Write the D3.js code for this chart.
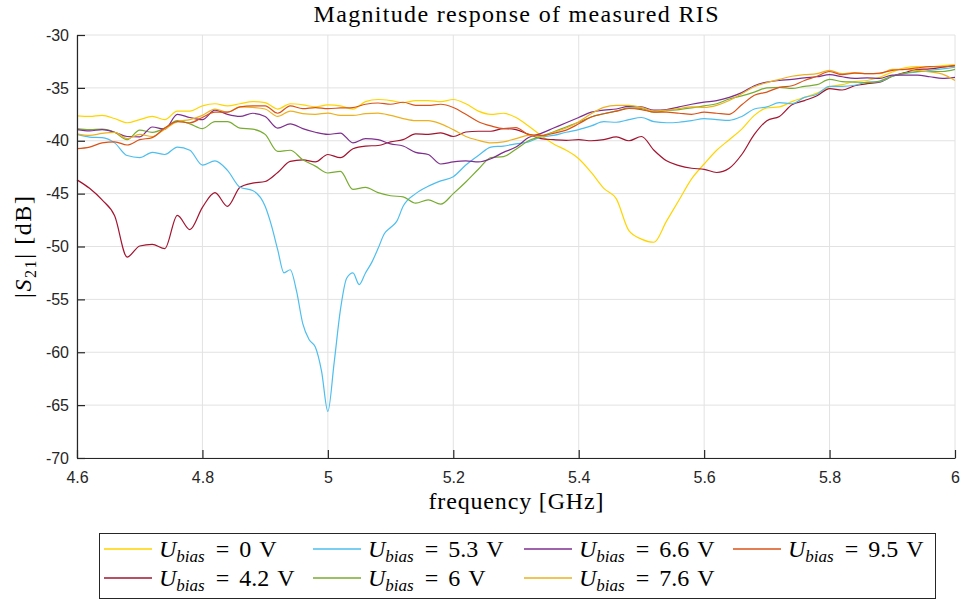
<!DOCTYPE html>
<html lang="en">
<head>
<meta charset="UTF-8">
<title>Magnitude response of measured RIS</title>
<script src="https://d3js.org/d3.v7.min.js"></script>
<style>
  body { margin: 0; background: #fff; }
  svg { display: block; }
  .tick text { font-family: "Liberation Sans", Arial, sans-serif; font-size: 16px; fill: #262626; }
  .serif { font-family: "Liberation Serif", "Times New Roman", serif; fill: #000; }
</style>
</head>
<body>
<svg id="chart" width="960" height="601"></svg>
<script>
// frequency grid [GHz] shared by most traces
const freqs = [4.60,4.62,4.64,4.66,4.68,4.70,4.72,4.74,4.76,4.78,
               4.80,4.82,4.84,4.86,4.88,4.90,4.92,4.94,4.96,4.98,
               5.00,5.02,5.04,5.06,5.08,5.10,5.12,5.14,5.16,5.18,
               5.20,5.22,5.24,5.26,5.28,5.30,5.32,5.34,5.36,5.38,
               5.40,5.42,5.44,5.46,5.48,5.50,5.52,5.54,5.56,5.58,
               5.60,5.62,5.64,5.66,5.68,5.70,5.72,5.74,5.76,5.78,
               5.80,5.82,5.84,5.86,5.88,5.90,5.92,5.94,5.96,5.98,
               6.00];

// |S21| [dB] per bias voltage
const bias0 = [-37.65,-37.7,-37.6,-37.9,-38.3,-38.0,-37.7,-38.0,-37.2,-37.2,
               -36.7,-36.5,-36.7,-36.5,-36.3,-36.4,-37.0,-36.5,-36.6,-36.8,
               -36.6,-36.7,-37.0,-36.3,-36.1,-36.2,-36.4,-36.2,-36.2,-36.3,
               -36.1,-36.5,-37.2,-37.5,-37.4,-37.8,-38.6,-39.5,-40.3,-40.9,
               -41.7,-43.0,-44.5,-45.5,-48.5,-49.3,-49.6,-47.6,-45.6,-43.6,
               -42.2,-40.9,-39.9,-38.9,-37.6,-36.9,-36.8,-36.3,-35.9,-35.5,
               -34.9,-34.7,-34.4,-34.3,-34.0,-33.5,-33.1,-33.0,-33.0,-32.9,
               -32.8];
const bias42 = [-43.7,-44.5,-45.6,-47.1,-51.0,-49.95,-49.8,-50.2,-47.05,-48.4,
                -46.3,-44.9,-46.2,-44.4,-44.0,-43.85,-43.0,-41.95,-41.8,-42.0,
                -41.3,-41.6,-40.75,-40.5,-40.45,-40.1,-39.9,-39.35,-39.4,-39.25,
                -39.6,-39.17,-39.1,-39.1,-38.85,-38.95,-39.4,-39.8,-39.9,-39.96,
                -39.9,-40.0,-39.9,-39.64,-40.0,-39.6,-40.9,-41.9,-42.35,-42.6,
                -42.7,-43.0,-42.6,-41.3,-39.4,-38.1,-37.7,-36.6,-36.2,-35.75,
                -35.07,-35.2,-34.8,-34.6,-34.45,-33.9,-33.55,-33.25,-33.2,-33.05,
                -32.9];
const bias6 = [-38.85,-38.95,-38.9,-39.2,-39.9,-39.0,-39.2,-38.8,-38.1,-38.4,
               -38.85,-38.2,-38.2,-38.8,-38.9,-39.4,-41.0,-40.9,-41.8,-42.4,
               -43.05,-42.9,-44.6,-44.4,-44.9,-45.2,-45.3,-45.9,-45.6,-46.0,
               -45.0,-43.9,-42.7,-41.6,-41.5,-40.8,-40.0,-39.6,-39.15,-38.7,
               -38.25,-37.75,-37.45,-37.2,-36.9,-36.95,-37.3,-37.15,-37.05,-36.9,
               -36.7,-36.5,-36.05,-35.75,-35.4,-35.0,-34.95,-35.05,-34.85,-34.7,
               -34.2,-34.4,-34.45,-34.5,-34.35,-33.9,-33.6,-33.45,-33.45,-33.45,
               -33.25];
const bias66 = [-38.95,-39.07,-38.95,-39.2,-39.6,-39.64,-38.7,-38.9,-37.5,-37.8,
                -38.0,-37.1,-37.5,-37.7,-37.4,-37.7,-38.8,-38.4,-38.85,-39.2,
                -39.4,-39.27,-40.2,-39.8,-39.9,-40.3,-40.5,-41.1,-41.3,-42.2,
                -42.0,-41.9,-42.0,-41.7,-41.1,-40.6,-39.7,-39.3,-38.8,-38.3,
                -37.8,-37.3,-37.1,-37.0,-36.75,-36.8,-37.1,-37.05,-36.8,-36.55,
                -36.35,-36.2,-35.9,-35.45,-34.8,-34.45,-34.3,-34.2,-34.05,-33.95,
                -33.75,-33.95,-34.1,-34.05,-34.1,-33.8,-33.8,-33.8,-33.95,-34.1,
                -34.0];
const bias76 = [-39.35,-39.5,-39.3,-39.2,-39.8,-39.4,-39.6,-38.9,-38.2,-38.0,
                -37.6,-37.0,-37.3,-36.8,-36.85,-37.0,-37.7,-37.2,-37.44,-37.5,
                -37.38,-37.6,-37.6,-37.44,-37.38,-37.6,-37.9,-38.1,-38.1,-38.4,
                -38.95,-39.6,-39.96,-40.2,-40.1,-39.8,-39.5,-39.6,-39.2,-38.8,
                -38.2,-37.45,-36.85,-36.65,-36.65,-36.85,-37.2,-37.1,-36.95,-36.8,
                -36.85,-36.65,-36.2,-35.55,-34.9,-34.5,-34.2,-33.9,-33.75,-33.65,
                -33.35,-33.65,-33.55,-33.65,-33.65,-33.25,-33.25,-33.35,-33.5,-33.7,
                -34.3];
const bias95 = [-40.75,-40.6,-40.2,-40.1,-40.4,-39.9,-39.7,-38.8,-38.2,-38.3,
                -37.8,-37.3,-37.3,-36.8,-36.7,-36.7,-37.4,-36.7,-36.96,-36.86,
                -36.96,-36.9,-36.86,-36.55,-36.43,-36.55,-36.36,-36.65,-36.65,-36.55,
                -36.86,-37.5,-38.2,-38.6,-38.85,-38.76,-39.4,-39.5,-39.3,-39.0,
                -38.4,-37.75,-37.45,-37.2,-36.95,-37.05,-37.3,-37.3,-37.4,-37.5,
                -37.3,-37.4,-37.5,-36.6,-35.7,-35.4,-34.95,-34.8,-34.3,-33.9,
                -33.45,-33.75,-33.6,-33.65,-33.6,-33.35,-33.25,-33.1,-33.0,-33.0,
                -32.9];

// 5.3 V has a sharp notch, so it is read on a finer grid around 5 GHz
const freqs53 = [4.60,4.62,4.64,4.66,4.68,4.70,4.72,4.74,4.76,4.78,4.80,4.82,4.84,4.86,4.88,
                 4.90,4.91,4.92,4.93,4.94,4.95,4.96,4.97,4.98,4.99,5.00,5.01,5.02,5.03,5.04,
                 5.05,5.06,5.07,5.08,5.09,5.10,5.11,5.12,
                 5.14,5.16,5.18,5.20,5.22,5.24,5.26,5.28,5.30,5.32,
                 5.34,5.36,5.38,5.40,5.42,5.44,5.46,5.48,5.50,5.52,
                 5.54,5.56,5.58,5.60,5.62,5.64,5.66,5.68,5.70,5.72,
                 5.74,5.76,5.78,5.80,5.82,5.84,5.86,5.88,5.90,5.92,
                 5.94,5.96,5.98,6.00];
const bias53 = [-39.4,-39.65,-39.7,-40.2,-41.4,-41.6,-41.1,-41.3,-40.6,-40.9,-42.3,-41.9,-42.8,-44.4,-44.7,
                -46.2,-48.0,-50.3,-52.5,-52.2,-54.2,-57.3,-58.8,-59.5,-61.8,-65.6,-61.0,-56.0,-53.0,-52.5,
                -53.6,-52.5,-51.5,-50.2,-48.8,-48.2,-47.6,-46.2,
                -45.0,-44.3,-43.8,-43.4,-42.3,-41.4,-40.6,-40.5,-40.3,-40.1,
                -39.65,-39.5,-39.2,-38.95,-38.6,-38.2,-38.25,-38.0,-37.8,-38.2,
                -38.3,-38.25,-38.1,-37.9,-38.0,-38.07,-37.7,-37.0,-36.8,-36.4,
                -36.5,-35.9,-35.6,-34.85,-34.85,-34.75,-34.45,-34.4,-33.9,-33.65,
                -33.5,-33.35,-33.2,-33.05];

const biasLabels = ["0", "4.2", "5.3", "6", "6.6", "7.6", "9.5"];
const xTicks = [4.6, 4.8, 5, 5.2, 5.4, 5.6, 5.8, 6];
const yTicks = [-70, -65, -60, -55, -50, -45, -40, -35, -30];

const series = [
  {label: biasLabels[0], color: "#FFD500", f: freqs,   v: bias0},
  {label: biasLabels[1], color: "#A2142F", f: freqs,   v: bias42},
  {label: biasLabels[2], color: "#4DBEEE", f: freqs53, v: bias53},
  {label: biasLabels[3], color: "#77AC30", f: freqs,   v: bias6},
  {label: biasLabels[4], color: "#7E2F8E", f: freqs,   v: bias66},
  {label: biasLabels[5], color: "#EDB120", f: freqs,   v: bias76},
  {label: biasLabels[6], color: "#D95319", f: freqs,   v: bias95}
];

const margin = {top: 35, right: 5, bottom: 143, left: 77};
const W = 960, H = 601;
const width = W - margin.left - margin.right;
const height = H - margin.top - margin.bottom;

const svg = d3.select("#chart");
const g = svg.append("g").attr("transform", `translate(${margin.left},${margin.top})`);

const x = d3.scaleLinear().domain([4.6, 6]).range([0, width]);
const y = d3.scaleLinear().domain([-70, -30]).range([height, 0]);

// grid
g.append("g").selectAll("line").data(xTicks).join("line")
  .attr("x1", d => x(d)).attr("x2", d => x(d)).attr("y1", 0).attr("y2", height)
  .attr("stroke", "#e2e2e2").attr("stroke-width", 1);
g.append("g").selectAll("line").data(yTicks).join("line")
  .attr("x1", 0).attr("x2", width).attr("y1", d => y(d)).attr("y2", d => y(d))
  .attr("stroke", "#e2e2e2").attr("stroke-width", 1);

// traces
const line = d3.line().x(d => x(d[0])).y(d => y(d[1])).curve(d3.curveMonotoneX);
g.append("g").selectAll("path").data(series).join("path")
  .attr("fill", "none")
  .attr("stroke", d => d.color)
  .attr("stroke-width", 1.2)
  .attr("stroke-linejoin", "round")
  .attr("d", d => line(d3.zip(d.f, d.v)));

// axes, ticks pointing inward
const xAxis = g.append("g").attr("transform", `translate(0,${height})`)
  .call(d3.axisBottom(x).tickValues(xTicks).tickFormat(d => String(d))
        .tickSizeInner(-8).tickSizeOuter(0).tickPadding(14));
const yAxis = g.append("g")
  .call(d3.axisLeft(y).tickValues(yTicks).tickFormat(d => String(d))
        .tickSizeInner(-8).tickSizeOuter(0).tickPadding(8));
[xAxis, yAxis].forEach(a => {
  a.select(".domain").attr("stroke", "#262626").attr("stroke-width", 1.2);
  a.selectAll(".tick line").attr("stroke", "#262626").attr("stroke-width", 1.2);
});

// title and axis labels
svg.append("text").attr("class", "serif")
  .attr("x", margin.left + width / 2).attr("y", 22)
  .attr("text-anchor", "middle").attr("font-size", 24)
  .attr("textLength", 405).attr("lengthAdjust", "spacing")
  .text("Magnitude response of measured RIS");

svg.append("text").attr("class", "serif")
  .attr("x", margin.left + width / 2).attr("y", 509)
  .attr("text-anchor", "middle").attr("font-size", 24)
  .attr("textLength", 175).attr("lengthAdjust", "spacing")
  .text("frequency [GHz]");

const yl = svg.append("text").attr("class", "serif")
  .attr("transform", `translate(31,247) rotate(-90)`)
  .attr("text-anchor", "middle").attr("font-size", 24)
  .attr("textLength", 102).attr("lengthAdjust", "spacing");
yl.append("tspan").text("|");
yl.append("tspan").attr("font-style", "italic").text("S");
yl.append("tspan").attr("font-size", 16).attr("dy", 5).text("21");
yl.append("tspan").attr("dy", -5).text("| [dB]");

// legend (column-major, 4 columns x 2 rows)
const legend = svg.append("g");
legend.append("rect")
  .attr("x", 99.5).attr("y", 533.5).attr("width", 836).attr("height", 65)
  .attr("fill", "#fff").attr("stroke", "#262626").attr("stroke-width", 1);

const colX = [104, 313, 524, 733];
const rowY = [549, 578];
series.forEach((s, i) => {
  const cx = colX[Math.floor(i / 2)], cy = rowY[i % 2];
  const item = legend.append("g").attr("transform", `translate(${cx},${cy})`);
  item.append("line").attr("x1", 0).attr("x2", 48).attr("y1", 0).attr("y2", 0)
    .attr("stroke", s.color).attr("stroke-width", 1.4);
  const t = item.append("text").attr("class", "serif")
    .attr("x", 55).attr("y", 8).attr("font-size", 24);
  t.append("tspan").attr("font-style", "italic").text("U");
  t.append("tspan").attr("font-style", "italic").attr("font-size", 17).attr("dy", 5).text("bias");
  t.append("tspan").attr("dy", -5).attr("dx", 11).text("=");
  t.append("tspan").attr("dx", 10).text(s.label);
  t.append("tspan").attr("dx", 8).text("V");
});
</script>
</body>
</html>
